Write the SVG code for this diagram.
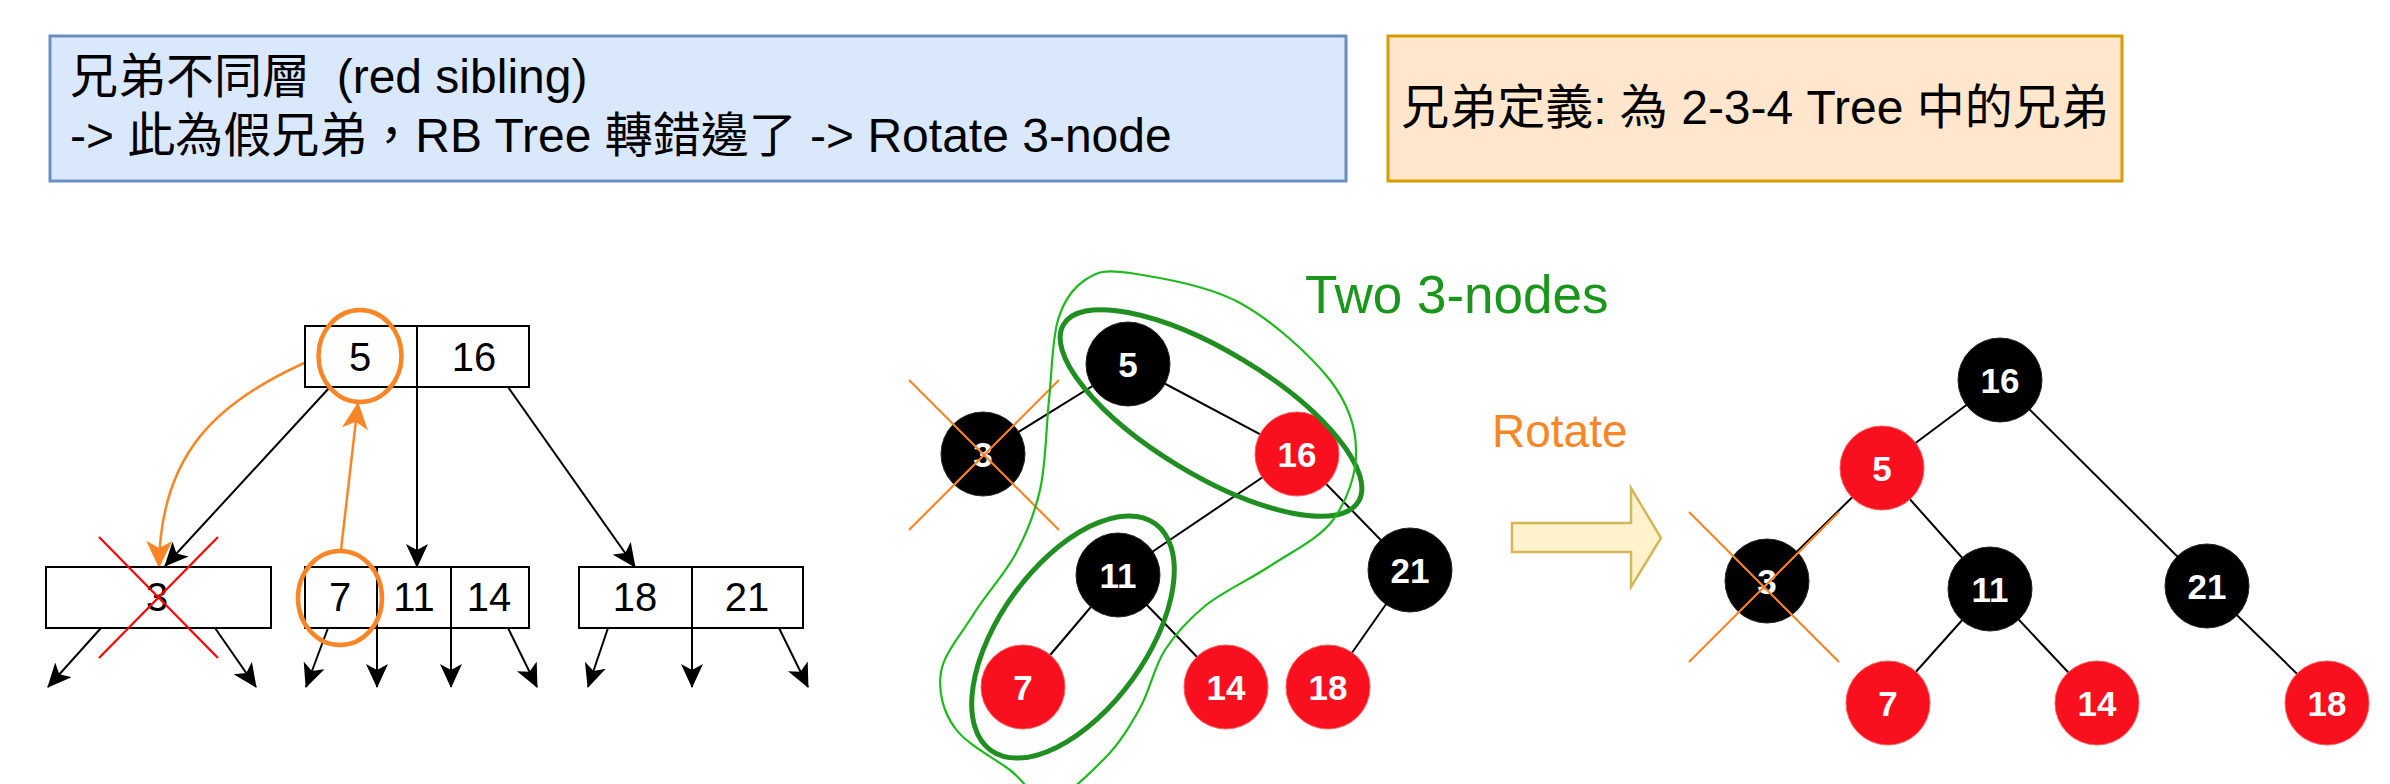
<svg xmlns="http://www.w3.org/2000/svg" width="2390" height="784" viewBox="0 0 2390 784">
<style>
.t{font-family:"Liberation Sans",Arial,"Noto Sans CJK TC",sans-serif}
.hdr{font-size:48px;fill:#000}
.box{fill:#fff;stroke:#000;stroke-width:2}
.num{font-size:40px;fill:#000;text-anchor:middle}
.edge{stroke:#000;stroke-width:2;fill:none}
.arr{stroke:#000;stroke-width:2;fill:none;marker-end:url(#blk)}
.oarr{stroke:#FA8526;stroke-width:2.5;fill:none;marker-end:url(#org)}
.oring{fill:none;stroke:#FA8526;stroke-width:4.5}
.bn{fill:#000;stroke:#222;stroke-width:1}
.rn{fill:#F8101E;stroke:#FF5A5A;stroke-width:1}
.nt{font-size:35px;font-weight:bold;fill:#fff;text-anchor:middle}
.ox{stroke:#FA8526;stroke-width:2.2}
.rx{stroke:#FF0000;stroke-width:2.2}
.g1{fill:none;stroke:#218E21;stroke-width:5}
.g2{fill:none;stroke:#1DBA1D;stroke-width:2.2}
</style>
<defs>
<marker id="blk" markerUnits="userSpaceOnUse" viewBox="0 0 24 22" refX="23" refY="11" markerWidth="24" markerHeight="22" orient="auto">
<path d="M0,0 L24,11 L0,22 L6,11 Z" fill="#000"/>
</marker>
<marker id="org" markerUnits="userSpaceOnUse" viewBox="0 0 27 26" refX="26" refY="13" markerWidth="27" markerHeight="26" orient="auto">
<path d="M0,0 L27,13 L0,26 L7,13 Z" fill="#FA8526"/>
</marker>
</defs>
<rect width="2390" height="784" fill="#fff"/>

<g id="note-blue">
<rect x="50" y="36" width="1296" height="145" fill="#dae8fc" stroke="#6c8ebf" stroke-width="3"/>
<text class="t hdr" x="70" y="93" xml:space="preserve">兄弟不同層  (red sibling)</text>
<text class="t hdr" x="70" y="152">-&gt; 此為假兄弟，RB Tree 轉錯邊了 -&gt; Rotate 3-node</text>
</g>

<g id="note-orange">
<rect x="1388" y="36" width="734" height="145" fill="#ffe6cc" stroke="#d79b00" stroke-width="3"/>
<text class="t hdr" x="1755" y="124" text-anchor="middle">兄弟定義: 為 2-3-4 Tree 中的兄弟</text>
</g>

<g id="connectors">
<line class="arr" x1="330" y1="387" x2="165" y2="566"/>
<line class="arr" x1="417" y1="387" x2="417" y2="567"/>
<line class="arr" x1="508" y1="387" x2="635" y2="567"/>
<line class="arr" x1="101" y1="628" x2="48" y2="687"/>
<line class="arr" x1="215" y1="628" x2="256" y2="687"/>
<line class="arr" x1="328" y1="628" x2="306" y2="687"/>
<line class="arr" x1="377" y1="628" x2="377" y2="687"/>
<line class="arr" x1="451" y1="628" x2="451" y2="687"/>
<line class="arr" x1="508" y1="628" x2="537" y2="687"/>
<line class="arr" x1="608" y1="628" x2="588" y2="687"/>
<line class="arr" x1="692" y1="628" x2="692" y2="687"/>
<line class="arr" x1="779" y1="628" x2="808" y2="687"/>
<path class="oarr" d="M318,357 C215,400 160,455 159,567"/>
<line class="oarr" x1="341" y1="550" x2="358" y2="403"/>
<line class="edge" x1="983" y1="454" x2="1128" y2="364"/>
<line class="edge" x1="1128" y1="364" x2="1297" y2="454"/>
<line class="edge" x1="1297" y1="454" x2="1118" y2="575"/>
<line class="edge" x1="1297" y1="454" x2="1410" y2="570"/>
<line class="edge" x1="1118" y1="575" x2="1023" y2="687"/>
<line class="edge" x1="1118" y1="575" x2="1226" y2="687"/>
<line class="edge" x1="1410" y1="570" x2="1328" y2="687"/>
<line class="edge" x1="2000" y1="380" x2="1882" y2="468"/>
<line class="edge" x1="2000" y1="380" x2="2207" y2="586"/>
<line class="edge" x1="1882" y1="468" x2="1767" y2="581"/>
<line class="edge" x1="1882" y1="468" x2="1990" y2="589"/>
<line class="edge" x1="1990" y1="589" x2="1888" y2="703"/>
<line class="edge" x1="1990" y1="589" x2="2097" y2="703"/>
<line class="edge" x1="2207" y1="586" x2="2327" y2="703"/>
</g>

<g id="btree-root">
<rect class="box" x="305" y="326" width="224" height="61"/>
<line class="edge" x1="417" y1="326" x2="417" y2="387"/>
<text class="t num" x="360" y="371">5</text>
<text class="t num" x="474" y="371">16</text>
</g>
<g id="btree-3">
<rect class="box" x="46" y="567" width="225" height="61"/>
<text class="t num" x="157" y="611">3</text>
<line class="rx" x1="99" y1="537" x2="218" y2="658"/>
<line class="rx" x1="218" y1="537" x2="99" y2="658"/>
</g>
<g id="btree-7-11-14">
<rect class="box" x="305" y="567" width="224" height="61"/>
<line class="edge" x1="377" y1="567" x2="377" y2="628"/>
<line class="edge" x1="451" y1="567" x2="451" y2="628"/>
<text class="t num" x="340" y="611">7</text>
<text class="t num" x="414" y="611">11</text>
<text class="t num" x="489" y="611">14</text>
</g>
<g id="btree-18-21">
<rect class="box" x="579" y="567" width="224" height="61"/>
<line class="edge" x1="692" y1="567" x2="692" y2="628"/>
<text class="t num" x="635" y="611">18</text>
<text class="t num" x="747" y="611">21</text>
</g>
<g id="orange-marks">
<ellipse class="oring" cx="360" cy="356" rx="41.5" ry="46"/>
<ellipse class="oring" cx="340" cy="598" rx="42" ry="47"/>
</g>

<g id="rb1-3"><circle class="bn" cx="983" cy="454" r="42"/><text class="t nt" x="983" y="467">3</text>
<line class="ox" x1="909" y1="380" x2="1059" y2="530"/><line class="ox" x1="1059" y1="380" x2="909" y2="530"/></g>
<g id="rb1-5"><circle class="bn" cx="1128" cy="364" r="42"/><text class="t nt" x="1128" y="377">5</text></g>
<g id="rb1-16"><circle class="rn" cx="1297" cy="454" r="42"/><text class="t nt" x="1297" y="467">16</text></g>
<g id="rb1-11"><circle class="bn" cx="1118" cy="575" r="42"/><text class="t nt" x="1118" y="588">11</text></g>
<g id="rb1-21"><circle class="bn" cx="1410" cy="570" r="42"/><text class="t nt" x="1410" y="583">21</text></g>
<g id="rb1-7"><circle class="rn" cx="1023" cy="687" r="42"/><text class="t nt" x="1023" y="700">7</text></g>
<g id="rb1-14"><circle class="rn" cx="1226" cy="687" r="42"/><text class="t nt" x="1226" y="700">14</text></g>
<g id="rb1-18"><circle class="rn" cx="1328" cy="687" r="42"/><text class="t nt" x="1328" y="700">18</text></g>

<g id="two-3-nodes">
<ellipse class="g1" cx="1211" cy="413" rx="172" ry="62" transform="rotate(31 1211 413)"/>
<ellipse class="g1" cx="1073" cy="637" rx="140" ry="73" transform="rotate(-54 1073 637)"/>
<path class="g2" d="M1130,273 C1156,277 1207,285 1240,303 C1273,321 1311,356 1330,380 C1349,405 1356,427 1356,450 C1357,473 1347,501 1333,520 C1319,539 1291,552 1270,566 C1249,580 1222,592 1205,606 C1188,620 1176,633 1165,650 C1154,667 1150,690 1140,708 C1130,726 1120,743 1105,758 C1090,773 1066,798 1050,800 C1034,802 1026,782 1010,770 C994,758 966,744 955,728 C943,712 938,691 941,672 C944,653 963,632 975,612 C987,593 1004,575 1015,555 C1026,535 1034,516 1040,490 C1046,464 1046,428 1049,400 C1052,372 1052,340 1058,320 C1064,300 1073,288 1085,280 C1097,272 1104,269 1130,273 Z"/>
<text class="t" x="1305" y="313" font-size="53" fill="#1A961A">Two 3-nodes</text>
</g>

<g id="rotate">
<text class="t" x="1492" y="447" font-size="46" fill="#FA8526">Rotate</text>
<polygon points="1512,523 1631,523 1631,488 1661,538 1631,587 1631,552 1512,552" fill="#fff2cc" stroke="#d6b656" stroke-width="2.5"/>
</g>

<g id="rb2-16"><circle class="bn" cx="2000" cy="380" r="42"/><text class="t nt" x="2000" y="393">16</text></g>
<g id="rb2-5"><circle class="rn" cx="1882" cy="468" r="42"/><text class="t nt" x="1882" y="481">5</text></g>
<g id="rb2-3"><circle class="bn" cx="1767" cy="581" r="42"/><text class="t nt" x="1767" y="594">3</text>
<line class="ox" x1="1689" y1="512" x2="1839" y2="662"/><line class="ox" x1="1839" y1="512" x2="1689" y2="662"/></g>
<g id="rb2-11"><circle class="bn" cx="1990" cy="589" r="42"/><text class="t nt" x="1990" y="602">11</text></g>
<g id="rb2-21"><circle class="bn" cx="2207" cy="586" r="42"/><text class="t nt" x="2207" y="599">21</text></g>
<g id="rb2-7"><circle class="rn" cx="1888" cy="703" r="42"/><text class="t nt" x="1888" y="716">7</text></g>
<g id="rb2-14"><circle class="rn" cx="2097" cy="703" r="42"/><text class="t nt" x="2097" y="716">14</text></g>
<g id="rb2-18"><circle class="rn" cx="2327" cy="703" r="42"/><text class="t nt" x="2327" y="716">18</text></g>
</svg>
